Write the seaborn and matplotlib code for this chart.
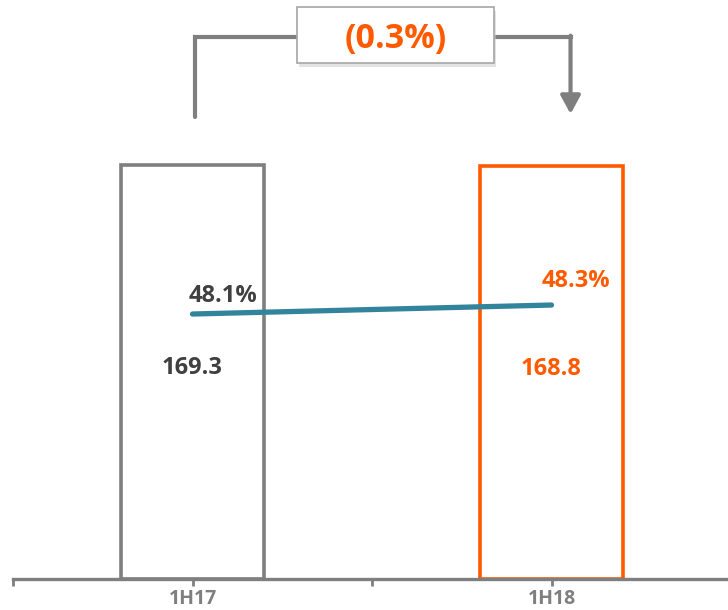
import numpy as np
import matplotlib.pyplot as plt
from matplotlib.patches import Rectangle
import seaborn as sb

periods = ['1H17', '1H18']
revenue = [169.3, 168.8]
margin = [48.1, 48.3]
change_label = '(0.3%)'

gray = '#7F7F7F'
orange = '#FF5A00'
teal = '#31849B'
dark = '#404040'

sb.set_style('white')
plt.rcParams['font.family'] = ['Open Sans', 'DejaVu Sans']
plt.rcParams['font.weight'] = 'bold'

fig = plt.figure(figsize=(7.28, 6.10), dpi=100)
ax = fig.add_axes([13/728, 31/610, 718/728, 579/610])

sb.barplot(x=periods, y=revenue, hue=periods, palette=[gray, orange],
           fill=False, width=0.4, linewidth=2.6, legend=False, ax=ax)
ax.set_xlim(-0.5, 1.5)
ax.set_ylim(0, 236.8)

# axis styling
for side in ['left', 'top', 'right']:
    ax.spines[side].set_visible(False)
ax.spines['bottom'].set_color(gray)
ax.spines['bottom'].set_linewidth(2.4)
ax.set_yticks([])
ax.set_xticks(range(len(periods)))
ax.set_xticklabels(periods, fontsize=14, fontweight='bold', color=gray)
ax.set_xticks([-0.5, 0.5, 1.5], minor=True)
ax.tick_params(axis='x', which='both', direction='out', length=5, width=2,
               color=gray, pad=2, bottom=True)
ax.set_xlabel('')
ax.set_ylabel('')

# value labels inside bars
txt_colors = [dark, orange]
for i, v in enumerate(revenue):
    ax.text(i, v * 0.51, f'{v:.1f}', ha='center', va='center',
            fontsize=17, fontweight='bold', color=txt_colors[i])

# margin line on secondary axis
ax2 = ax.twinx()
sb.lineplot(x=np.arange(len(periods)), y=margin, color=teal, linewidth=3.8,
            solid_capstyle='round', ax=ax2)
ax2.set_ylim(42.21, 55.08)
ax2.set_yticks([])
for s in ax2.spines.values():
    s.set_visible(False)
offsets = [(0.085, 0.40), (0.067, 0.53)]
for i, m in enumerate(margin):
    ax2.text(i + offsets[i][0], m + offsets[i][1], f'{m:.1f}%', ha='center',
             va='center', fontsize=17, fontweight='bold', color=txt_colors[i])

# change bracket
yb = 221.7
ax.plot([0.008, 0.008, 0.291], [189.0, yb, yb], color=gray, lw=3,
        solid_joinstyle='miter', solid_capstyle='round', clip_on=False)
ax.plot([0.84, 1.053], [yb, yb], color=gray, lw=3, clip_on=False,
        solid_capstyle='projecting')
ax.annotate('', xy=(1.053, 190.2), xytext=(1.053, yb + 0.5),
            arrowprops=dict(arrowstyle='-|>,head_length=0.55,head_width=0.3',
                            color=gray, lw=3, shrinkA=0, shrinkB=0,
                            mutation_scale=20), annotation_clip=False)
ax.add_patch(Rectangle((0.297, 209.2), 0.549, 22.9, facecolor='#C8C8C8',
                       edgecolor='none', alpha=0.5, clip_on=False, zorder=4))
ax.add_patch(Rectangle((0.291, 211.0), 0.549, 22.9, facecolor='white',
                       edgecolor='#A6A6A6', lw=1.2, clip_on=False, zorder=5))
ax.text(0.565, 221.0, change_label, ha='center', va='center', fontsize=24.5,
        fontweight='bold', color=orange, zorder=6)

fig.savefig('out.png', dpi=100)
